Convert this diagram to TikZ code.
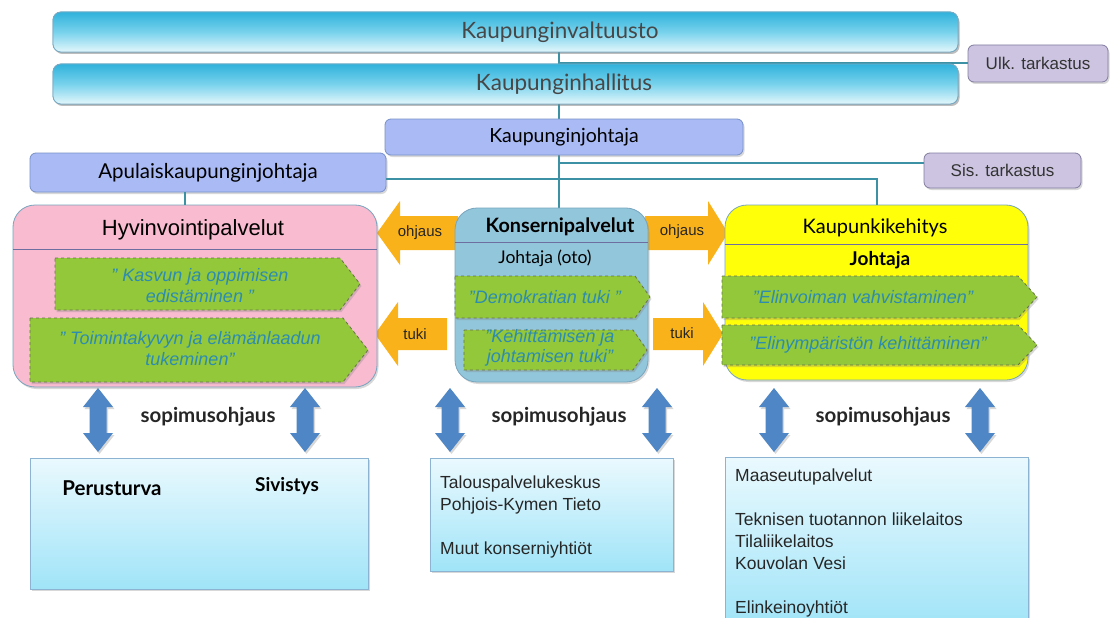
\documentclass[tikz,border=0pt]{standalone}
\usepackage{fontspec}
\setmainfont{Liberation Sans}
\newfontfamily\gillf{Lato}
\usetikzlibrary{shadows}
\definecolor{barT}{RGB}{48,178,220}
\definecolor{barM}{RGB}{120,210,236}
\definecolor{barBot}{RGB}{228,247,252}
\definecolor{barB}{RGB}{120,170,195}
\definecolor{kjF}{RGB}{169,186,245}
\definecolor{kjB}{RGB}{120,145,200}
\definecolor{tarF}{RGB}{204,196,224}
\definecolor{tarB}{RGB}{130,125,160}
\definecolor{pinkF}{RGB}{248,187,208}
\definecolor{konsF}{RGB}{146,198,218}
\definecolor{yelF}{RGB}{255,255,10}
\definecolor{boxB}{RGB}{120,165,190}
\definecolor{divC}{RGB}{110,110,160}
\definecolor{grF}{RGB}{146,200,58}
\definecolor{grB}{RGB}{105,115,75}
\definecolor{grT}{RGB}{45,140,175}
\definecolor{orF}{RGB}{250,178,27}
\definecolor{blF}{RGB}{79,134,198}
\definecolor{lowT}{RGB}{234,249,254}
\definecolor{lowBot}{RGB}{160,228,248}
\definecolor{lowB}{RGB}{140,180,210}
\definecolor{lineC}{RGB}{60,145,165}
\tikzset{
  shadowA/.style={drop shadow={shadow xshift=1.5pt, shadow yshift=-2pt, opacity=0.3}},
  conn/.style={draw=lineC, line width=2pt},
  barbox/.style={rounded corners=8pt, draw=barB, line width=0.8pt, top color=barT, bottom color=barBot, middle color=barM, minimum width=905pt, minimum height=40pt, inner sep=0pt, shadowA},
  bartext/.style={font=\gillf\fontsize{22.5}{26}\selectfont, text=black!72},
  kjbox/.style={rounded corners=6pt, draw=kjB, fill=kjF, line width=0.8pt, inner sep=0pt, shadowA},
  tarbox/.style={rounded corners=6pt, draw=tarB, fill=tarF, line width=0.8pt, inner sep=0pt, shadowA, font=\fontsize{17}{20}\selectfont, text=black!80},
  bigbox/.style={rounded corners=22pt, draw=boxB, line width=0.8pt, inner sep=0pt, shadowA},
  divider/.style={draw=divC, line width=0.8pt},
  greenarr/.style={fill=grF, draw=grB, dashed, line width=0.8pt, shadowA},
  gtext/.style={font=\fontsize{18}{21}\selectfont\itshape, text=grT, align=center},
  orarr/.style={fill=orF},
  otext/.style={font=\fontsize{15}{18}\selectfont, text=black!85},
  bluearr/.style={fill=blF, shadowA},
  sopi/.style={font=\gillf\bfseries\fontsize{20.5}{24}\selectfont, text=black!85},
  lowbox/.style={draw=lowB, top color=lowT, bottom color=lowBot, line width=0.8pt, inner sep=0pt, shadowA},
  lowtext/.style={font=\fontsize{17.5}{22}\selectfont, text=black!85, align=left, anchor=north west, inner sep=0pt},
  boldG/.style={font=\gillf\bfseries\fontsize{20.5}{24}\selectfont},
}
\newcommand\grnarrow[5]{\path[greenarr] (#1,#2) -- (#5,#2) -- (#3,{(#2+#4)/2}) -- (#5,#4) -- (#1,#4) -- cycle;}
\newcommand\dblarr[1]{\path[bluearr] (#1,388) -- ({#1+15},407) -- ({#1+8.5},407) -- ({#1+8.5},433) -- ({#1+15},433) -- (#1,452) -- ({#1-15},433) -- ({#1-8.5},433) -- ({#1-8.5},407) -- ({#1-15},407) -- cycle;}
\begin{document}
\begin{tikzpicture}[x=1pt,y=-1pt]
\useasboundingbox[fill=white] (0,0) rectangle (1112,618);
% coordinates for connectors
\coordinate (vx) at (559,0);
\coordinate (hx) at (185,0);
% top bars
\node[barbox] (valt) at (505.5,32) {};
\node[barbox] (hall) at (505.5,84) {};
\node[tarbox, minimum width=140pt, minimum height=37pt] (ulk) at (1038,63.5) {Ulk. tarkastus};
\node[tarbox, minimum width=157pt, minimum height=35pt] (sis) at (1002.5,170.5) {Sis. tarkastus};
% connectors (behind)
\coordinate (sisin) at ([yshift=8pt]sis.west);
\draw[conn] (vx |- valt.south) -- (vx |- 0,208);
\draw[conn] (vx |- ulk.west) -- (ulk.west);
\draw[conn] (vx |- sisin) -- (sisin);
% redraw bars above connectors
\node[barbox] at (505.5,32) {};
\node[barbox] at (505.5,84) {};
\node[bartext] (valtT) at (560,32) {Kaupunginvaltuusto};
\node[bartext] (hallT) at (564,84) {Kaupunginhallitus};
\node[kjbox, minimum width=358pt, minimum height=36pt, font=\gillf\fontsize{19.5}{23}\selectfont] (kj) at (564,137) {Kaupunginjohtaja};
\node[kjbox, minimum width=356pt, minimum height=39pt, font=\gillf\fontsize{20.5}{24}\selectfont] (apu) at (208,172.5) {Apulaiskaupunginjohtaja};
\coordinate (apuout) at ([yshift=-6.5pt]apu.east);
% orange arrows
\path[orarr] (377,233) -- (400,201) -- (400,216) -- (458,216) -- (458,250) -- (400,250) -- (400,265) -- cycle;
\path[orarr] (375,334) -- (398,302) -- (398,318) -- (447,318) -- (447,350) -- (398,350) -- (398,366) -- cycle;
\path[orarr] (728,233) -- (708,201) -- (708,216) -- (645,216) -- (645,250) -- (708,250) -- (708,265) -- cycle;
\path[orarr] (723,334) -- (703,302) -- (703,318) -- (653,318) -- (653,350) -- (703,350) -- (703,366) -- cycle;
\node[otext] (oh1) at (420,233) {ohjaus};
\node[otext] (tu1) at (415,334) {tuki};
\node[otext] (oh2) at (682,232) {ohjaus};
\node[otext] (tu2) at (682,333) {tuki};
% big boxes
\node[bigbox, fill=pinkF, minimum width=364pt, minimum height=182pt] (hyv) at (195,296) {};
\node[bigbox, fill=konsF, minimum width=193pt, minimum height=174pt] (kons) at (551.5,295) {};
\node[bigbox, fill=yelF, minimum width=303pt, minimum height=175pt] (kk) at (876.5,292.5) {};
\draw[conn] (apuout) -| (kk.north);
\draw[conn] (hx |- apu.south) -- (hx |- hyv.north);
\draw[divider] (13,249) -- (377,249);
\draw[divider] (455,242) -- (648,242);
\draw[divider] (725,244) -- (1028,244);
\node[font=\fontsize{22}{26}\selectfont] (hyvT) at (193,230) {Hyvinvointipalvelut};
\node[font=\gillf\bfseries\fontsize{19.8}{23}\selectfont] (konsT) at (560,227) {Konsernipalvelut};
\node[font=\gillf\fontsize{17.5}{21}\selectfont] (konsJ) at (545,258) {Johtaja (oto)};
\node[font=\gillf\fontsize{20}{24}\selectfont] (kkT) at (875,228) {Kaupunkikehitys};
\node[font=\gillf\bfseries\fontsize{19}{22}\selectfont] (kkJ) at (880,260) {Johtaja};
% green arrows
\grnarrow{55}{258}{360}{310}{340}
\grnarrow{30}{318}{368}{382}{343}
\grnarrow{455}{276}{650}{318}{635}
\grnarrow{464}{330}{647}{370}{633}
\grnarrow{722}{276}{1037}{318}{1018}
\grnarrow{722}{325}{1037}{365}{1018}
\node[gtext] (g1) at (200,285.5) {" Kasvun ja oppimisen\\ edistäminen "};
\node[gtext] (g2) at (190,349) {" Toimintakyvyn ja elämänlaadun\\ tukeminen"};
\node[gtext] (g3) at (545,297) {"Demokratian tuki "};
\node[gtext, font=\fontsize{18}{20}\selectfont\itshape] (g4) at (550,348) {"Kehittämisen ja\\ johtamisen tuki"};
\node[gtext] (g5) at (863,297) {"Elinvoiman vahvistaminen"};
\node[gtext] (g6) at (868,345) {"Elinympäristön kehittäminen"};
% blue double arrows
\dblarr{98}
\dblarr{305}
\dblarr{450}
\dblarr{657}
\dblarr{774}
\dblarr{980}
\node[sopi] (s1) at (208,417) {sopimusohjaus};
\node[sopi] (s2) at (559,417) {sopimusohjaus};
\node[sopi] (s3) at (883,417) {sopimusohjaus};
% bottom boxes
\node[lowbox, minimum width=338pt, minimum height=131pt] (low1) at (199,523.5) {};
\node[lowbox, minimum width=243pt, minimum height=113pt] (low2) at (551.5,514.5) {};
\node[lowbox, minimum width=303pt, minimum height=170pt] (low3) at (876.5,542) {};
\node[boldG] (peru) at (112,488) {Perusturva};
\node[boldG, font=\gillf\bfseries\fontsize{19}{22}\selectfont] (sivi) at (287,486) {Sivistys};
\node[lowtext] (low2t) at (440,475.5) {Talouspalvelukeskus\\Pohjois-Kymen Tieto\\[22pt]Muut konserniyhtiöt};
\node[lowtext] (low3t) at (735,468.5) {Maaseutupalvelut\\[22pt]Teknisen tuotannon liikelaitos\\Tilaliikelaitos\\Kouvolan Vesi\\[22pt]Elinkeinoyhtiöt};
\end{tikzpicture}
\end{document}
